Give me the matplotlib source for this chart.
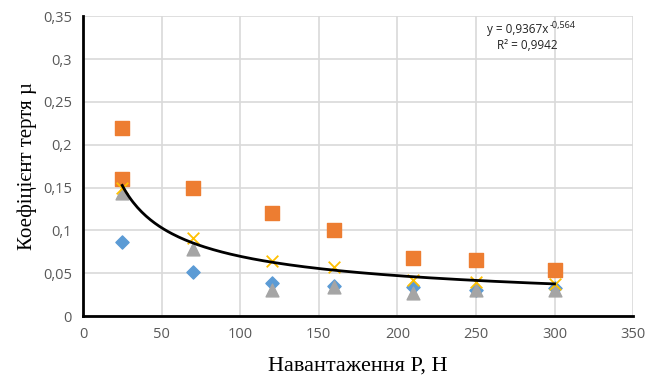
import numpy as np
import matplotlib.pyplot as plt

# Дані
x_vals = [25, 70, 120, 160, 210, 250, 300]
mu_1 = [0.087, 0.051, 0.039, 0.035, 0.034, 0.031, 0.033]      # ромби
mu_2_x = [25, 25, 70, 120, 160, 210, 250, 300]
mu_2 = [0.22, 0.16, 0.15, 0.12, 0.10, 0.068, 0.065, 0.054]     # квадрати
mu_3 = [0.144, 0.078, 0.031, 0.034, 0.027, 0.030, 0.030]       # трикутники
mu_4 = [0.150, 0.091, 0.064, 0.057, 0.042, 0.040, 0.037]       # хрестики

# Степенева лінія тренду y = a*x^b
a_fit = 0.9367
b_fit = -0.564

fig = plt.figure(figsize=(6.48, 3.85), dpi=100)
ax = fig.add_axes([0.128, 0.179, 0.849, 0.779])

ax.scatter(x_vals, mu_1, marker='D', s=45, color='#5B9BD5', zorder=3)
ax.scatter(mu_2_x, mu_2, marker='s', s=95, color='#ED7D31', zorder=3)
ax.scatter(x_vals, mu_3, marker='^', s=85, color='#A5A5A5', zorder=3)
ax.scatter(x_vals, mu_4, marker='x', s=70, color='#FFC000', linewidths=1.3, zorder=4)

xt = np.linspace(25, 300, 200)
ax.plot(xt, a_fit * xt ** b_fit, color='black', lw=2, zorder=5)

# рівняння тренду
eq_kw = dict(transform=ax.transAxes, family='Open Sans', color='#222222')
t1 = ax.text(0.735, 0.978, 'y = 0,9367x', ha='left', va='top', fontsize=8.5, **eq_kw)
ax.annotate('-0,564', xy=(1, 1), xycoords=t1, xytext=(0.5, 1), textcoords='offset points',
            ha='left', va='top', fontsize=6.5, family='Open Sans', color='#222222')
ax.text(0.753, 0.925, 'R² = 0,9942', ha='left', va='top', fontsize=8.5, **eq_kw)

ax.set_xlim(0, 350)
ax.set_ylim(0, 0.35)
xticks = [0, 50, 100, 150, 200, 250, 300, 350]
yticks = [0, 0.05, 0.1, 0.15, 0.2, 0.25, 0.3, 0.35]
ax.set_xticks(xticks)
ax.set_xticklabels([str(v) for v in xticks])
ax.set_yticks(yticks)
ax.set_yticklabels(['0', '0,05', '0,1', '0,15', '0,2', '0,25', '0,3', '0,35'])
ax.tick_params(length=0, labelsize=10.5, labelcolor='#595959', pad=8)
for lab in ax.get_xticklabels() + ax.get_yticklabels():
    lab.set_family('Open Sans')

ax.grid(True, color='#D9D9D9', lw=1.2)
ax.set_axisbelow(True)
for s in ['top', 'right']:
    ax.spines[s].set_visible(False)
for s in ['left', 'bottom']:
    ax.spines[s].set_linewidth(2)
    ax.spines[s].set_color('black')
    ax.spines[s].set_zorder(6)

ax.set_xlabel('Навантаження P, H', family='Liberation Serif', fontsize=16, labelpad=10)
ax.set_ylabel('Коефіцієнт тертя µ', family='Liberation Serif', fontsize=15, labelpad=4)

fig.savefig('out.png', dpi=100)
